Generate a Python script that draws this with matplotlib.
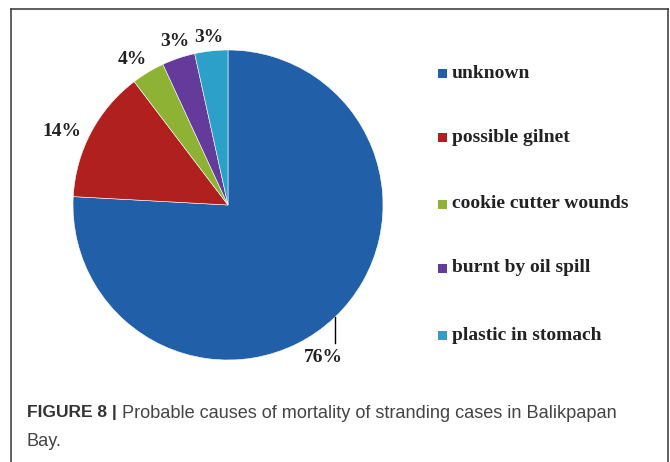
import numpy as np
import matplotlib.pyplot as plt
from matplotlib.lines import Line2D

# case counts, labels as printed on the chart
causes = ["unknown", "possible gilnet", "cookie cutter wounds",
          "burnt by oil spill", "plastic in stomach"]
cases = [22, 4, 1, 1, 1]
pct_labels = ["76%", "14%", "4%", "3%", "3%"]
colors = ["#2160a8", "#b0201e", "#8db234", "#643a9b", "#2ca0c8"]

W, H = 670, 462
fig = plt.figure(figsize=(W / 100, H / 100), dpi=100)

# pie axes: centre (228, 205) px, radius 155 px
cx, cy, r = 228, 205, 155
ax = fig.add_axes([(cx - r) / W, (H - cy - r) / H, 2 * r / W, 2 * r / H])
wedges, _ = ax.pie(cases, colors=colors, startangle=90, counterclock=False,
                   radius=1, wedgeprops=dict(edgecolor="white", linewidth=0.4))
ax.set_xlim(-1, 1)
ax.set_ylim(-1, 1)
ax.set_aspect("equal")
ax.axis("off")

serif = dict(family="Liberation Serif", fontweight="bold", color="#222222")

def px(x, y):
    # pixel position -> pie data coords
    return (x - cx) / r, -(y - cy) / r

# label spots as dragged in the original chart (pixels)
label_px = [(323, 357), (62, 132), (132, 60), (175, 42), (209, 38)]
for lab, (lx, ly) in zip(pct_labels, label_px):
    tx, ty = px(lx, ly)
    ax.text(tx, ty, lab, ha="center", va="center", fontsize=14,
            clip_on=False, **serif)

# leader line for the 76% label
x0, _ = px(335, 0)
y0 = -np.sqrt(1 - x0 ** 2)
ax.plot([x0, x0], [y0, px(0, 343)[1]], color="black", lw=1, clip_on=False)

# legend drawn as a column of squares and labels
leg_y = [73, 137, 204, 268, 335]
for name, col, y in zip(causes, colors, leg_y):
    fig.patches.append(plt.Rectangle((438 / W, 1 - (y + 4.5) / H), 9 / W, 9 / H,
                                     facecolor=col, transform=fig.transFigure))
    fig.text(452 / W, 1 - y / H, name, ha="left", va="center",
             fontsize=14, **serif)

# frame around the figure (open at the bottom)
frame = dict(color="#444444", lw=1.2, transform=fig.transFigure)
fig.add_artist(Line2D([11 / W, 668 / W], [1 - 9 / H, 1 - 9 / H], **frame))
fig.add_artist(Line2D([11 / W, 11 / W], [0, 1 - 9 / H], **frame))
fig.add_artist(Line2D([668 / W, 668 / W], [0, 1 - 9 / H], **frame))

# caption
cap = fig.text(27 / W, 1 - 413 / H, "FIGURE 8 |", ha="left", va="center",
               fontsize=12.5, family="Liberation Sans", fontweight="bold",
               color="#333333")
fig.canvas.draw()
bb = cap.get_window_extent()
fig.text((bb.x1 + 5) / W, 1 - 413 / H,
         "Probable causes of mortality of stranding cases in Balikpapan",
         ha="left", va="center", fontsize=13.1, family="Liberation Sans",
         color="#444444")
fig.text(27 / W, 1 - 441 / H, "Bay.", ha="left", va="center",
         fontsize=13.1, family="Liberation Sans", color="#444444")

fig.savefig("out.png", dpi=100)
